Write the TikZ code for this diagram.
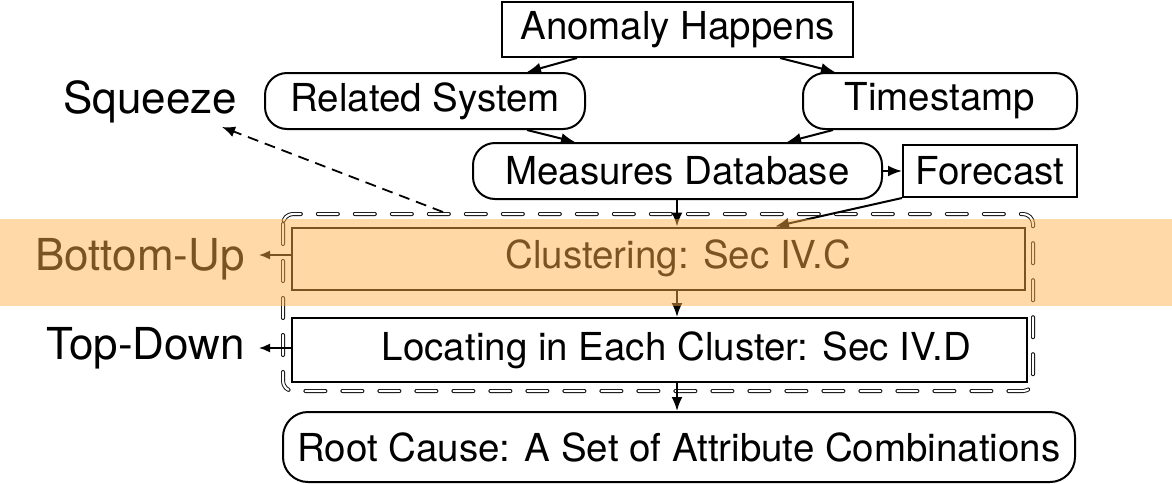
\documentclass[tikz,border=0pt]{standalone}
\usepackage{fontspec}
\setmainfont{TeX Gyre Heros}
\usetikzlibrary{arrows.meta}
\definecolor{bandorange}{RGB}{255,175,71}
\tikzset{
  base/.style={draw=black, line width=2pt, inner sep=0pt, align=center,
    font=\fontsize{38.5}{42}\selectfont},
  sqbox/.style={base},
  rbox/.style={base, rounded corners=22pt},
  lbl/.style={inner sep=0pt, font=\fontsize{38.5}{42}\selectfont},
  sidelbl/.style={inner sep=0pt, font=\fontsize{44}{48}\selectfont},
  conn/.style={line width=2pt, -{Latex[length=14pt,width=11pt]}},
  sideconn/.style={line width=1.6pt, -{Latex[length=11pt,width=9pt]}},
  container/.style={draw=black, line width=0.9pt, double=white, double distance=2.2pt,
    dash pattern=on 20pt off 17pt, line cap=round, rounded corners=10pt},
}
\begin{document}
\begin{tikzpicture}[x=1pt,y=-1pt]
\useasboundingbox (0,0) rectangle (1172,483);
% nodes
\node[sqbox, minimum width=351pt, minimum height=55pt] (anom) at (677.5,29.5) {Anomaly Happens};
\node[rbox, minimum width=320pt, minimum height=56pt] (rel) at (425,101) {Related System};
\node[rbox, minimum width=274pt, minimum height=56pt] (ts) at (940,101) {Timestamp};
\node[rbox, minimum width=409pt, minimum height=56pt] (mdb) at (677.5,171) {Measures Database};
\node[sqbox, minimum width=174pt, minimum height=52pt] (fc) at (990,171) {Forecast};
\node[sidelbl, anchor=base] (sq) at (150,113) {Squeeze};
% container
\coordinate (ctl) at (283,214);
\coordinate (cbr) at (1033,391);
\draw[container] (ctl) rectangle (cbr);
\node[sqbox, fill=white, minimum width=733pt, minimum height=62pt,
  label={[lbl, xshift=20pt]center:{Clustering: Sec IV.C}}] (clu) at (658.5,258.5) {};
\node[sqbox, fill=white, minimum width=735pt, minimum height=64pt,
  label={[lbl, xshift=17pt]center:{Locating in Each Cluster: Sec IV.D}}] (loc) at (659.5,350) {};
\node[rbox, rounded corners=25pt, minimum width=792pt, minimum height=70pt] (root) at (679,447) {Root Cause: A Set of Attribute Combinations};
\node[sidelbl, anchor=base east] (bu) at (245,270) {Bottom-Up};
\node[sidelbl, anchor=base east] (td) at (245,359) {Top-Down};
\coordinate (butip) at (259,255);
\coordinate (tdtip) at (259,348);
\coordinate (sqs) at (443,212);
\coordinate (sqe) at (222,127);
% connectors
\draw[conn] (anom.south -| 577,0) -- (rel.north -| 527,0);
\draw[conn] (anom.south -| 780,0) -- (ts.north -| 835,0);
\draw[conn] (rel.south -| 527,0) -- (mdb.north -| 575,0);
\draw[conn] (ts.south -| 833,0) -- (mdb.north -| 787,0);
\draw[conn] (mdb.east) -- (fc.west);
\draw[conn] (mdb.south -| 677,0) -- (clu.north -| 677,0);
\draw[conn] (fc.south west) -- (clu.north -| 775,0);
\draw[conn] (clu.south -| 677,0) -- (loc.north -| 677,0);
\draw[conn] (loc.south -| 677,0) -- (root.north -| 677,0);
\draw[sideconn] (clu.west |- butip) -- (butip);
\draw[sideconn] (loc.west |- tdtip) -- (tdtip);
\draw[line width=1.8pt, dash pattern=on 11pt off 7pt, -{Latex[length=13pt,width=11pt]}] (sqs) -- (sqe);
% translucent band
\fill[bandorange, fill opacity=0.48] (0,219) rectangle (1172,306);
\end{tikzpicture}
\end{document}
